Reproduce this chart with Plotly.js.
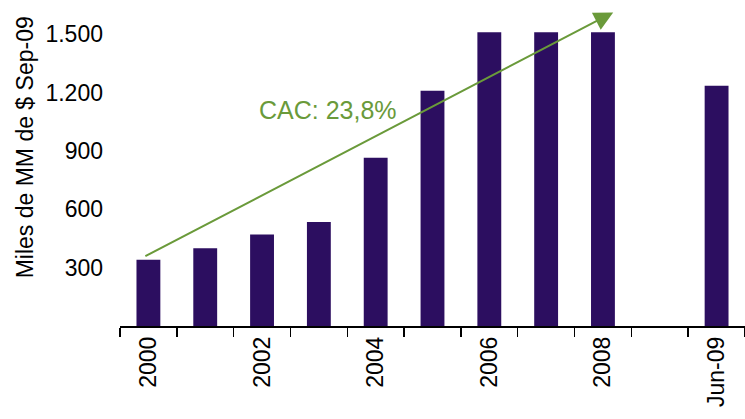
<!DOCTYPE html>
<html>
<head>
<meta charset="utf-8">
<script src="https://cdn.plot.ly/plotly-3.0.1.min.js"></script>
<style>html,body{margin:0;padding:0;background:#fff;}#chart{width:745px;height:419px;}</style>
</head>
<body>
<div id="chart"></div>
<script>
const categories = ['2000','2001','2002','2003','2004','2005','2006','2007','2008',' ','Jun-09'];
const tickLabels = ['2000','','2002','','2004','','2006','','2008','','Jun-09'];
const values = [340, 400, 470, 535, 865, 1210, 1510, 1510, 1510, null, 1235];
const yTickVals = [300, 600, 900, 1200, 1500];
const yTickText = ['300', '600', '900', '1.200', '1.500'];
const cagrLabel = 'CAC: 23,8%';

const narrow = '"Liberation Sans Narrow", "Arial Narrow", "Liberation Sans", Arial, sans-serif';
const regular = '"Liberation Sans", Arial, sans-serif';
const green = '#6a9a3a';

const data = [{
  type: 'bar',
  x: categories,
  y: values,
  width: 0.42,
  marker: {color: '#2c0e60'},
  hoverinfo: 'x+y'
}];

const layout = {
  width: 745, height: 419,
  margin: {l: 120, r: 0, t: 0, b: 93},
  paper_bgcolor: '#fff', plot_bgcolor: '#fff',
  showlegend: false,
  xaxis: {
    type: 'category',
    tickmode: 'array',
    tickvals: categories,
    ticktext: tickLabels,
    tickson: 'boundaries',
    ticks: 'outside', ticklen: 9, tickwidth: 1.5, tickcolor: '#000',
    showline: true, linecolor: '#000', linewidth: 1.5,
    showgrid: false, zeroline: false,
    tickangle: -90,
    tickfont: {family: regular, size: 23, color: '#000'},
    range: [-0.5, 10.5],
    fixedrange: true
  },
  yaxis: {
    range: [0, 1676],
    tickmode: 'array',
    tickvals: yTickVals,
    ticktext: yTickText,
    ticks: '', showline: false, showgrid: false, zeroline: false,
    ticklabelstandoff: 16,
    tickfont: {family: narrow, size: 23, color: '#000'},
    fixedrange: true
  },
  annotations: [
    {
      xref: 'paper', yref: 'paper', x: -0.152, y: 0.548,
      xanchor: 'center', yanchor: 'middle',
      text: 'Miles de MM de $ Sep-09', textangle: -90, showarrow: false,
      font: {family: narrow, size: 23, color: '#000'}
    },
    {
      xref: 'x', yref: 'y', x: 3.16, y: 1110,
      text: cagrLabel, showarrow: false,
      font: {family: narrow, size: 25, color: green}
    },
    {
      xref: 'x', yref: 'y', x: 8.18, y: 1612,
      axref: 'x', ayref: 'y', ax: -0.08, ay: 355,
      text: '', showarrow: true, arrowhead: 2, arrowsize: 1.9, arrowwidth: 2,
      arrowcolor: green, standoff: 0, startstandoff: 0
    }
  ]
};

Plotly.newPlot('chart', data, layout, {displayModeBar: false, staticPlot: true});
</script>
</body>
</html>
